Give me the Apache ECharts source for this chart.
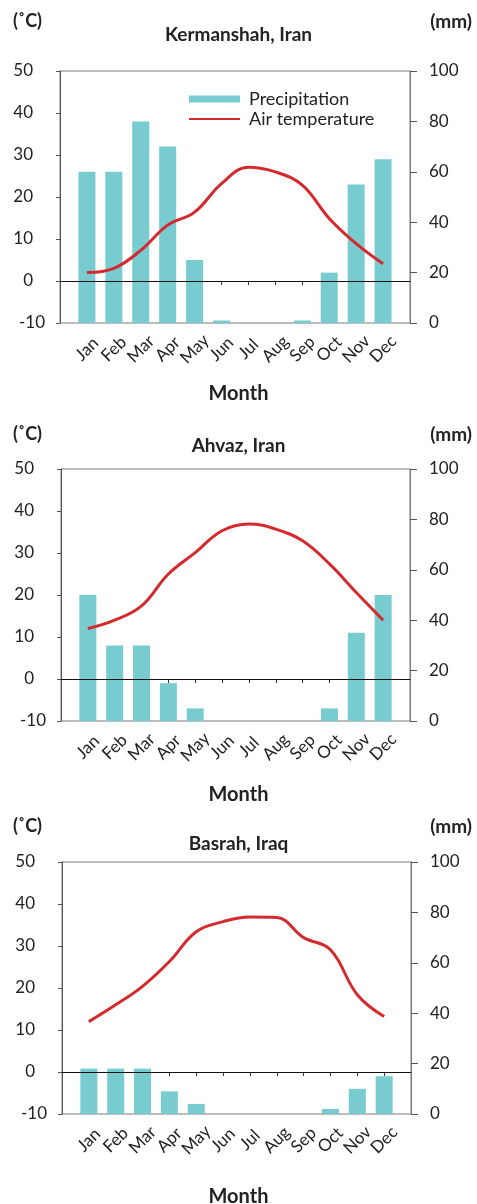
<!DOCTYPE html>
<html>
<head>
<meta charset="utf-8">
<script src="https://cdn.jsdelivr.net/npm/echarts@6/dist/echarts.min.js"></script>
<style>
  html, body { margin: 0; padding: 0; background: #fff; }
  #main { width: 477px; height: 1204px; }
</style>
</head>
<body>
<div id="main"></div>
<script>
// month labels
var months = ['Jan', 'Feb', 'Mar', 'Apr', 'May', 'Jun', 'Jul', 'Aug', 'Sep', 'Oct', 'Nov', 'Dec'];
var stations = ['Kermanshah, Iran', 'Ahvaz, Iran', 'Basrah, Iraq'];

// precipitation (mm)
var rainKermanshah = [60, 60, 80, 70, 25, 1, 0, 0, 1, 20, 55, 65];
var rainAhvaz = [50, 30, 30, 15, 5, 0, 0, 0, 0, 5, 35, 50];
var rainBasrah = [18, 18, 18, 9, 4, 0, 0, 0, 0, 2, 10, 15];

// air temperature (C)
var tempKermanshah = [2.0, 3.0, 7.3, 13.3, 16.4, 23.2, 27.1, 26.0, 22.8, 14.9, 8.9, 4.1];
var tempAhvaz = [12.0, 14.0, 17.4, 25.0, 30.1, 35.3, 36.9, 35.7, 32.9, 27.4, 20.6, 14.0];
var tempBasrah = [12.0, 16.0, 20.4, 26.3, 33.4, 35.8, 36.9, 36.8, 32.0, 29.1, 18.4, 13.2];

// axis ticks
var tempTicks = [-10, 0, 10, 20, 30, 40, 50];
var rainTicks = [0, 20, 40, 60, 80, 100];

var rains = [rainKermanshah, rainAhvaz, rainBasrah];
var temps = [tempKermanshah, tempAhvaz, tempBasrah];

var FONT = 'Lato';
var BAR_COLOR = '#78cccf';
var LINE_COLOR = '#d42a2f';

// layout per panel
var panels = [
  { top: 71, left: 60, right: 67, unitY: 7, titleY: 20, monthY: 379 },
  { top: 469, left: 61, right: 67, unitY: 420, titleY: 431, monthY: 780 },
  { top: 862, left: 62, right: 66, unitY: 812, titleY: 829, monthY: 1182 }
];
var PLOT_H = 252;

var chart = echarts.init(document.getElementById('main'));

var grid = [], xAxis = [], yAxis = [], series = [], title = [];

panels.forEach(function (p, i) {
  grid.push({
    left: p.left, right: p.right, top: p.top, height: PLOT_H,
    show: true, borderColor: '#7a7a7a', borderWidth: 1
  });

  xAxis.push({
    type: 'value', gridIndex: i, min: 0, max: 13,
    splitLine: { show: false },
    axisLine: { lineStyle: { color: '#333', width: 1.2 } },
    axisTick: { customValues: [1, 2, 3, 4, 5, 6, 7, 8, 9, 10, 11, 12], length: 4, lineStyle: { color: '#333' } },
    axisLabel: {
      customValues: [1, 2, 3, 4, 5, 6, 7, 8, 9, 10, 11, 12],
      formatter: function (v) { return months[v - 1]; },
      rotate: 45, margin: 26, align: 'center', verticalAlign: 'middle',
      fontFamily: FONT, fontSize: 17, color: '#222'
    }
  });

  yAxis.push({
    type: 'value', gridIndex: i, min: -10, max: 50, interval: 10,
    position: 'left',
    splitLine: { show: false },
    axisLine: { show: true, lineStyle: { color: '#555' } },
    axisTick: { show: true, length: 4, lineStyle: { color: '#555' } },
    axisLabel: {
      margin: 15,
      formatter: function (v) { return v < 0 ? '{m|' + v + '}' : '{n|' + v + '}'; },
      rich: {
        m: { fontFamily: FONT, fontSize: 17, color: '#222' },
        n: { fontFamily: FONT, fontSize: 17, color: '#222', padding: [0, 12, 0, 0] }
      }
    }
  });
  yAxis.push({
    type: 'value', gridIndex: i, min: 0, max: 100, interval: 20,
    position: 'right',
    splitLine: { show: false },
    axisLine: { show: true, lineStyle: { color: '#7a7a7a' } },
    axisTick: { show: true, length: 7, lineStyle: { color: '#555' } },
    axisLabel: { fontFamily: FONT, fontSize: 17, color: '#222', margin: 19 }
  });

  series.push({
    name: 'Precipitation', type: 'bar',
    xAxisIndex: i, yAxisIndex: i * 2 + 1,
    barWidth: 17,
    itemStyle: { color: BAR_COLOR },
    data: rains[i].map(function (v, k) { return [k + 1, v]; })
  });
  series.push({
    name: 'Air temperature', type: 'line',
    xAxisIndex: i, yAxisIndex: i * 2,
    smooth: 0.4, symbol: 'none',
    lineStyle: { color: LINE_COLOR, width: 3 },
    itemStyle: { color: LINE_COLOR },
    data: temps[i].map(function (v, k) { return [k + 1, v]; }),
    markLine: {
      silent: true, symbol: 'none', label: { show: false },
      lineStyle: { color: '#111', width: 1.2, type: 'solid' },
      data: [{ yAxis: 0 }]
    },
    z: 3
  });

  title.push({
    text: stations[i], left: 'center', top: p.titleY,
    textStyle: { fontFamily: FONT, fontSize: 19, fontWeight: 'bold', color: '#222' }
  });
  title.push({
    text: '(˚C)', left: 8, top: p.unitY,
    textStyle: { fontFamily: FONT, fontSize: 18, fontWeight: 'bold', color: '#222' }
  });
  title.push({
    text: '(mm)', right: 0, top: p.unitY,
    textStyle: { fontFamily: FONT, fontSize: 19, fontWeight: 'bold', color: '#222' }
  });
  title.push({
    text: 'Month', left: 'center', top: p.monthY,
    textStyle: { fontFamily: FONT, fontSize: 20, fontWeight: 'bold', color: '#222' }
  });
});

var option = {
  backgroundColor: '#fff',
  animation: false,
  title: title,
  legend: {
    orient: 'vertical', left: 184, top: 85,
    itemWidth: 51, itemHeight: 7, itemGap: 2,
    textStyle: { fontFamily: FONT, fontSize: 18, color: '#222', padding: [0, 0, 0, 4] },
    data: [
      { name: 'Precipitation', icon: 'rect' },
      { name: 'Air temperature', icon: 'path://M0,0H50V2H0Z' }
    ]
  },
  grid: grid,
  xAxis: xAxis,
  yAxis: yAxis,
  series: series
};

chart.setOption(option);
</script>
</body>
</html>
